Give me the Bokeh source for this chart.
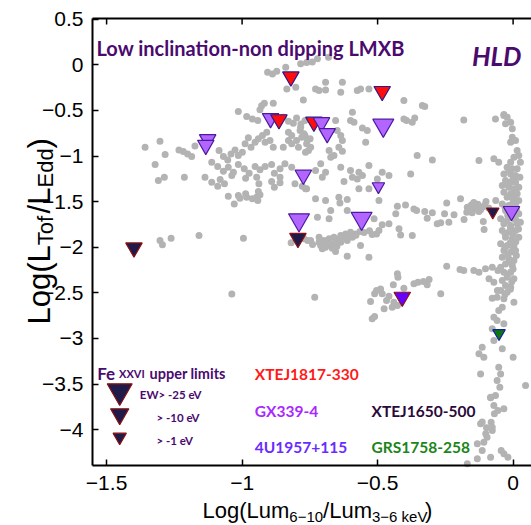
from bokeh.plotting import figure
from bokeh.models import Label, LinearAxis, FixedTicker, Range1d, ColumnDataSource
from bokeh.embed import file_html
from bokeh.resources import INLINE
import math

# ---------------- data ----------------
gray_x = [
 -0.784, -0.722, -0.681, -1.358, -1.303, -1.321, -1.284, -1.233, -1.217, -1.201, -1.186, -1.174,
 -1.085, -1.069, -1.053, -1.041, -1.026, -1.014, -0.999, -0.989, -0.977, -0.967, -0.952, -0.940,
 -0.925, -0.909, -0.915, -0.897, -0.885, -0.848, -0.829, -0.817, -0.799, -0.780, -0.762, -0.749,
 -1.112, -1.090, -1.069, -1.051, -1.032, -1.014, -0.992, -0.974, -0.952, -0.934, -0.915, -0.891,
 -0.881, -0.860, -0.842, -0.817, -1.137, -0.906, -0.888, -0.872, -0.839, -0.762, -0.741, -0.835,
 -0.802, -0.774, -0.885, -1.014, -0.983, -0.962, -0.942, -0.928, -0.918, -0.934, -0.848, -0.829,
 -0.811, -0.799, -0.783, -0.768, -0.829, -0.786, -0.768, -0.817, -0.792, -0.755,
 -0.729, -0.716, -0.692, -0.692, -0.636, -0.630, -0.575, -0.563, -0.532, -0.403, -0.335, -0.326,
 -0.593, -0.600, -0.587, -0.556, -0.538, -0.544, -0.403, -0.393, -0.372, -0.363, -0.354, -0.298,
 -0.784, -0.772, -0.759, -0.747, -0.766, -0.655, -0.649, -0.636, -0.630, -0.643, -0.630, -0.661,
 -0.679, -0.673, -0.710, -0.692, -0.729, -0.704, -0.636, -0.600, -0.569, -0.556, -0.532, -0.501,
 -0.483, -0.458, -0.378,
 -1.309, -1.287, -1.213, -1.112, -1.090, -1.081, -1.065, -1.038, -1.051, -1.029, -1.014, -1.008,
 -0.987, -0.983, -0.962, -0.946, -0.940, -0.934, -0.942, -0.987, -0.946, -0.938, -0.891, -0.881,
 -0.860, -0.860, -0.805, -0.778, -0.762, -1.303, -1.294, -1.262, -1.159, -0.995, -0.819, -0.758,
 -1.038,
 -0.766, -0.729, -0.692, -0.673, -0.722, -0.679, -0.643, -0.639, -0.612, -0.612, -0.624, -0.593,
 -0.575, -0.569, -0.532, -0.495, -0.513, -0.495, -0.483, -0.458, -0.504, -0.433, -0.427, -0.397,
 -0.421, -0.415, -0.372, -0.366, -0.356, -0.326, -0.317, -0.298, -0.280, -0.267, -0.253, -0.237,
 -0.245, -0.218, -0.194, -0.181,
 -0.169, -0.154, -0.142, -0.130, -0.114, -0.100, -0.171, -0.151, -0.126, -0.110, -0.107, -0.064,
 -0.160, -0.135, -0.120, -0.145, -0.105, -0.090,
 -0.716, -0.698, -0.679, -0.661, -0.655, -0.636, -0.618, -0.600, -0.581, -0.565, -0.710, -0.692,
 -0.667, -0.655, -0.716, -0.704, -0.673, -0.636, -0.612, -0.593, -0.563, -0.612, -0.532, -0.747,
 -0.772, -0.640, -0.620, -0.580, -0.550, -0.530, -0.520, -0.600, -0.690, -0.650, -0.740,
 -0.427, -0.425, -0.442, -0.403, -0.366, -0.351, -0.331, -0.310, -0.317, -0.504, -0.489, -0.511,
 -0.483, -0.458, -0.467, -0.440, -0.427, -0.446, -0.526, -0.476, -0.267, -0.732, -0.245, -0.196,
 -0.520, -0.511,
 -0.182, -0.065, -0.034, -0.126, -0.071, -0.053,
 -0.034, -0.022, -0.028, -0.009, -0.003, -0.003, -0.009, 0.009, 0.015, 0.021, 0.003, 0.027,
 -0.009, -0.022, -0.003, 0.015, -0.034, -0.009, 0.009, 0.025, -0.028, -0.009, 0.009, -0.040,
 -0.016, 0.003, 0.021, -0.034, -0.009, 0.015, -0.022, 0.003, 0.021, -0.040, -0.016, 0.009,
 -0.028, 0.003, 0.021, -0.046, -0.022, 0.003, -0.034, -0.009, 0.015, 0.027, -0.040, -0.016,
 0.009, -0.028, -0.003, 0.021, -0.046, -0.022, 0.003, -0.034, -0.009, 0.009, -0.040, -0.016,
 0.003, -0.028, -0.003, -0.046, -0.034, -0.009, -0.022, 0.003, -0.040, -0.028, -0.009, -0.046,
 -0.022, 0.003, -0.059, -0.034, -0.040, -0.053, -0.071, -0.059, -0.034,
 -0.015, 0.000, -0.020, 0.010, -0.010, 0.000, -0.030, 0.012, -0.005, -0.020, 0.010, -0.010,
 0.020, -0.030, 0.000, 0.010, -0.010, -0.030, 0.000, -0.020, 0.012, -0.010, 0.000, -0.020,
 -0.005, -0.010, -0.030,
 -0.182, -0.145, -0.126, -0.102, -0.089, -0.077, -0.071, -0.056, -0.077, -0.058,
 -0.114, -0.126, -0.108, -0.120, 0.000, -0.053, -0.046, -0.059, -0.049, -0.065, 0.046, -0.083,
 -0.071, -0.056, -0.069, -0.120, -0.098, -0.081, -0.077, -0.096, -0.108, -0.114, -0.044, -0.034,
 -0.019, -0.083, -0.132, -0.077, -0.071, -0.040, -0.083, -0.034, -0.114, -0.077, -0.101, -0.132,
 -0.169,
]
gray_y = [
 0.011, 0.066, 0.083, -0.904, -0.838, -1.094, -0.984, -0.933, -0.951, -0.977, -1.006, -0.889,
 -0.940, -1.006, -1.043, -0.977, -0.933, -0.995, -0.958, -0.867, -0.801, -0.904, -0.849, -0.812,
 -0.776, -0.739, -0.849, -0.831, -0.904, -0.904, -0.831, -0.776, -0.831, -0.794, -0.867, -0.812,
 -1.068, -1.116, -1.167, -1.123, -1.178, -1.094, -1.141, -1.189, -1.116, -1.152, -1.116, -1.094,
 -1.189, -1.141, -1.086, -1.123, -1.233, -0.081, -0.100, -0.070, -0.026, 0.025, 0.032, -0.264,
 -0.246, -0.385, -0.421, -0.513, -0.567, -0.593, -0.611, -0.450, -0.421, -0.494, -0.575, -0.619,
 -0.640, -0.582, -0.648, -0.611, -0.739, -0.721, -0.776, -0.867, -0.904, -0.940,
 -0.264, -0.282, -0.275, -0.191, -0.301, -0.191, -0.282, -0.264, -0.264, -0.392, -0.447, -0.458,
 -0.520, -0.611, -0.630, -0.692, -0.721, -0.849, -0.593, -0.611, -0.630, -0.582, -0.995, -1.043,
 -0.684, -0.757, -0.831, -0.904, -0.958, -0.611, -0.721, -0.776, -0.831, -0.904, -0.948, -0.995,
 -0.940, -1.013, -1.086, -1.178, -1.159, -1.233, -1.123, -1.159, -1.178, -1.214, -1.105, -1.251,
 -1.178, -1.214, -1.196,
 -1.269, -1.232, -1.232, -1.287, -1.331, -1.258, -1.305, -1.214, -1.441, -1.525, -1.433, -1.463,
 -1.415, -1.452, -1.470, -1.452, -1.389, -1.426, -1.488, -1.243, -1.232, -1.305, -1.280, -1.342,
 -1.294, -1.232, -1.305, -1.331, -1.360, -1.927, -1.974, -1.901, -1.872, -1.901, -1.952, -1.927,
 -2.512,
 -1.360, -1.470, -1.488, -1.598, -1.671, -1.689, -1.452, -1.514, -1.477, -1.598, -1.280, -1.232,
 -1.251, -1.360, -1.360, -1.488, -1.689, -1.817, -1.755, -1.744, -1.854, -1.634, -1.550, -1.536,
 -1.799, -1.865, -1.872, -1.580, -1.598, -1.609, -1.682, -1.623, -1.744, -1.733, -1.634, -1.726,
 -1.514, -1.645, -1.470, -1.696,
 -1.561, -1.536, -1.580, -1.528, -1.561, -1.499, -1.616, -1.623, -1.609, -1.718, -1.806, -1.488,
 -1.590, -1.550, -1.590, -1.510, -1.540, -1.570,
 -1.890, -1.927, -1.908, -1.890, -1.945, -1.872, -1.854, -1.835, -1.854, -1.828, -1.982, -2.000,
 -2.011, -2.047, -1.945, -2.018, -1.963, -1.945, -1.927, -1.890, -1.982, -2.098, -2.110, -1.927,
 -1.908, -1.910, -1.890, -1.870, -1.840, -1.820, -1.860, -1.880, -1.960, -1.990, -1.970,
 -2.292, -2.329, -2.413, -2.449, -2.402, -2.384, -2.376, -2.354, -2.413, -2.475, -2.457, -2.511,
 -2.511, -2.537, -2.585, -2.603, -2.640, -2.658, -2.596, -2.676, -2.511, -2.548, -2.208, -2.245,
 -2.785, -2.760,
 -0.604, -0.593, -0.556, -1.050, -1.031, -1.068,
 -0.545, -0.574, -0.647, -0.629, -0.702, -0.794, -0.849, -0.830, -0.940, -0.995, -1.013, -1.068,
 -1.068, -1.123, -1.141, -1.141, -1.196, -1.196, -1.214, -1.232, -1.269, -1.287, -1.287, -1.324,
 -1.342, -1.360, -1.342, -1.397, -1.415, -1.415, -1.452, -1.470, -1.488, -1.525, -1.543, -1.543,
 -1.598, -1.616, -1.634, -1.689, -1.707, -1.689, -1.744, -1.762, -1.744, -1.726, -1.817, -1.835,
 -1.817, -1.890, -1.908, -1.890, -1.963, -1.982, -1.982, -2.036, -2.055, -2.036, -2.109, -2.128,
 -2.146, -2.183, -2.201, -2.219, -2.274, -2.274, -2.329, -2.347, -2.365, -2.420, -2.438, -2.475,
 -2.493, -2.603, -2.548, -2.566, -2.658, -2.694, -2.767, -2.804, -2.840,
 -1.160, -1.250, -1.310, -1.380, -1.440, -1.500, -1.560, -1.580, -1.660, -1.650, -1.700, -1.790,
 -1.800, -1.850, -1.860, -1.940, -1.950, -2.000, -2.020, -2.080, -2.090, -2.160, -2.240, -2.300,
 -2.380, -2.460, -2.520,
 -2.256, -2.256, -2.274, -2.237, -2.347, -2.219, -2.384, -2.256, -2.559, -2.475,
 -3.096, -3.169, -3.206, -3.389, -3.206, -3.316, -3.389, -3.462, -3.535, -3.626, -3.517, -3.645,
 -3.736, -3.791, -3.827, -3.937, -3.981, -3.919, -4.010, -4.083, -4.138, -4.229, -4.229, -4.266,
 -4.302, -4.302, -4.320, -2.895, -3.023, -3.114, -3.652, -3.772, -3.918, -3.973, -4.046, -4.156,
 -4.375,
]

# Fe XXVI upper limits (EW class: -25, -10, -1 eV)
xte1817_x = [-0.820, -0.483, -0.864, -0.735]
xte1817_y = [-0.130, -0.290, -0.600, -0.627]
xte1817_ew = [-10, -10, -10, -10]

gx339_x = [-0.479, -0.895, -1.127, -1.134, -0.774, -0.497, -0.790, -0.559, -0.006, -0.707, -0.686]
gx339_y = [-0.663, -0.587, -0.818, -0.880, -1.208, -1.333, -1.700, -1.684, -1.606, -0.632, -0.752]
gx339_ew = [-25, -10, -10, -10, -10, -1, -25, -25, -10, -10, -10]

xte1650_x = [-0.794, -1.399, -0.075]
xte1650_y = [-1.901, -2.005, -1.610]
xte1650_ew = [-10, -10, -1]

u1957_x = [-0.409]
u1957_y = [-2.546]
u1957_ew = [-10]

grs1758_x = [-0.052]
grs1758_y = [-2.944]
grs1758_ew = [-1]

x_ticks = [-1.5, -1.0, -0.5, 0.0]
x_tick_labels = ["\u22121.5", "\u22121", "\u22120.5", "0"]
y_ticks = [-4.0, -3.5, -3.0, -2.5, -2.0, -1.5, -1.0, -0.5, 0.0, 0.5]
y_tick_labels = ["\u22124", "\u22123.5", "\u22123", "\u22122.5", "\u22122", "\u22121.5", "\u22121", "\u22120.5", "0", "0.5"]

# ---------------- layout (page pixels -> data) ----------------
W, H = 531, 525
X_PX0, X_SCALE = 512.6, 271.0     # page x of data x=0, px per unit
Y_PX0, Y_SCALE = 64.3, 91.2       # page y of data y=0, px per unit

def px2x(px):
    return (px - X_PX0) / X_SCALE

def py2y(py):
    return (Y_PX0 - py) / Y_SCALE

BOX_L, BOX_R = px2x(92), px2x(531)
BOX_T, BOX_B = py2y(18), py2y(465)

SIZE = {-25: 21, -10: 16.5, -1: 12.5}
BFONT = "Lato"
SANS = "Liberation Sans"
PURPLE_TXT = "#4a0a6e"

p = figure(width=W, height=H, x_range=Range1d(px2x(0), px2x(W)), y_range=Range1d(py2y(H), py2y(0)),
           output_backend="svg", toolbar_location=None, x_axis_location=None, y_axis_location=None,
           min_border=0, min_border_left=0, min_border_right=0, min_border_top=0, min_border_bottom=0,
           outline_line_color=None, background_fill_color="white", border_fill_color="white")
p.grid.visible = False

xax = LinearAxis(fixed_location=BOX_B, bounds=(BOX_L, BOX_R), ticker=FixedTicker(ticks=x_ticks),
                 major_label_overrides=dict(zip(x_ticks, x_tick_labels)), major_label_standoff=10)
yax = LinearAxis(fixed_location=BOX_L, bounds=(BOX_B, BOX_T), ticker=FixedTicker(ticks=y_ticks),
                 major_label_overrides=dict(zip(y_ticks, y_tick_labels)), major_label_standoff=9)
for ax in (xax, yax):
    ax.axis_line_width = 2
    ax.axis_line_color = "black"
    ax.major_tick_in = 6
    ax.major_tick_out = 0
    ax.major_tick_line_width = 1.5
    ax.minor_tick_line_color = None
    ax.major_label_text_font = SANS
    ax.major_label_text_font_size = "21px"
    ax.major_label_text_color = "black"
p.add_layout(xax, "below")
p.add_layout(yax, "left")

# top border with inward ticks
p.segment(x0=[BOX_L], y0=[BOX_T], x1=[BOX_R], y1=[BOX_T], line_color="black", line_width=2)
p.segment(x0=x_ticks, y0=[BOX_T] * len(x_ticks), x1=x_ticks,
          y1=[BOX_T - 6 / Y_SCALE] * len(x_ticks), line_color="black", line_width=1.5)

# gray points
p.scatter(gray_x, gray_y, marker="circle", size=7, fill_color="#b3b3b3", line_color=None)

def tri(xs, ys, ews, fill, line):
    src = ColumnDataSource(dict(x=xs, y=ys, s=[SIZE[e] for e in ews]))
    p.scatter("x", "y", source=src, size="s", marker="inverted_triangle",
              fill_color=fill, line_color=line, line_width=1.2)

tri(gx339_x[:9], gx339_y[:9], gx339_ew[:9], "#b266ff", "#4b1aa0")
tri(xte1817_x, xte1817_y, xte1817_ew, "#ff0d0d", "#2a1a8a")
tri(gx339_x[9:], gx339_y[9:], gx339_ew[9:], "#b266ff", "#4b1aa0")
tri(xte1650_x, xte1650_y, xte1650_ew, "#1f1a4a", "#8b1010")
tri(u1957_x, u1957_y, u1957_ew, "#6600ff", "#8b1010")
tri(grs1758_x, grs1758_y, grs1758_ew, "#0a7a0a", "#1a1aaa")

def txt(text, px, py, size, color, font=BFONT, style="bold", angle=0.0, align="left"):
    p.add_layout(Label(x=px2x(px), y=py2y(py), text=text, text_font=font,
                       text_font_size=f"{size}px", text_font_style=style, text_color=color,
                       text_baseline="alphabetic", text_align=align, angle=angle))

# title texts
txt("Low inclination-non dipping LMXB", 96, 47, 20, PURPLE_TXT)
txt("HLD", 521, 55.5, 26, PURPLE_TXT, style="bold italic", align="right")

# Fe XXVI legend
txt("Fe", 96.7, 372.7, 17, PURPLE_TXT)
txt("XXVI", 118.5, 372.7, 11, PURPLE_TXT)
txt("upper limits", 149, 372.7, 14.5, PURPLE_TXT)
leg_sizes = [25, 18.3, 13.3]
leg_py = [390.5, 413.6, 436.5]
p.scatter([px2x(119.2)] * 3, [py2y(v) for v in leg_py], size=leg_sizes, marker="inverted_triangle",
          fill_color="#1f1a4a", line_color="#8b1010", line_width=1.2)
txt("EW> -25 eV", 139.3, 394, 11.5, PURPLE_TXT)
txt("> -10 eV", 156, 417.3, 11.5, PURPLE_TXT)
txt("> -1 eV", 156, 440, 11.5, PURPLE_TXT)

# source names
txt("XTEJ1817-330", 254.3, 373.3, 15.5, "#ff1a1a")
txt("GX339-4", 254.3, 410, 15.5, "#a829ff")
txt("4U1957+115", 254.3, 446.7, 15.5, "#6a2bff")
txt("XTEJ1650-500", 371, 410.7, 15.5, "#2a0a3a")
txt("GRS1758-258", 371, 446.7, 15.5, "#1a851a")

# x axis label with subscripts
txt("Log(Lum", 202, 510, 22, "black", font=SANS, style="normal")
txt("6\u221210", 288.8, 516, 15, "black", font=SANS, style="normal")
txt("/Lum", 322.6, 510, 22, "black", font=SANS, style="normal")
txt("3\u22126 keV", 371.5, 516, 15, "black", font=SANS, style="normal")
txt(")", 424.5, 510, 22, "black", font=SANS, style="normal")

# y axis label (rotated) with subscripts
A = math.pi / 2
txt("Log(L", 39, 324, 31, "black", font=SANS, style="normal", angle=A)
txt("Tof", 45, 244.7, 22, "black", font=SANS, style="normal", angle=A)
txt("/L", 39, 212.9, 31, "black", font=SANS, style="normal", angle=A)
txt("Edd", 45, 187.0, 22, "black", font=SANS, style="normal", angle=A)
txt(")", 39, 147.9, 31, "black", font=SANS, style="normal", angle=A)

open("out.html", "w").write(file_html(p, INLINE))
